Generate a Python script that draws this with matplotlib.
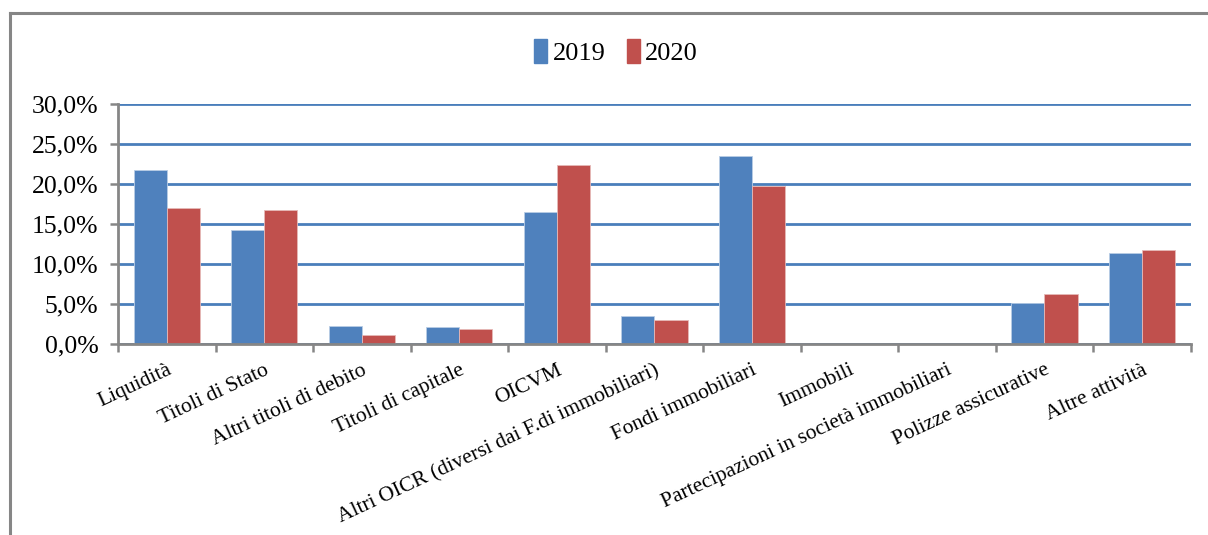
import matplotlib.pyplot as plt
import matplotlib.patches as mpatches
from matplotlib.ticker import FuncFormatter
import numpy as np

plt.rcParams['font.family'] = ['Liberation Serif', 'DejaVu Serif']

# Dati
categorie = [
    "Liquidità",
    "Titoli di Stato",
    "Altri titoli di debito",
    "Titoli di capitale",
    "OICVM",
    "Altri OICR (diversi dai F.di immobiliari)",
    "Fondi immobiliari",
    "Immobili",
    "Partecipazioni in società immobiliari",
    "Polizze assicurative",
    "Altre attività",
]
valori_2019 = [21.7, 14.3, 2.3, 2.1, 16.5, 3.5, 23.5, 0.0, 0.0, 5.1, 11.4]
valori_2020 = [17.0, 16.7, 1.1, 1.9, 22.3, 3.0, 19.7, 0.0, 0.0, 6.3, 11.8]
anni = ["2019", "2020"]

blu = "#4F81BD"
rosso = "#C0504D"
grigio = "#868686"

fig = plt.figure(figsize=(12.08, 5.35), dpi=100)

# cornice esterna (solo lati visibili)
fig.add_artist(plt.Line2D([0.008, 1.0], [0.976, 0.976], color=grigio, lw=2.2,
                          transform=fig.transFigure))
fig.add_artist(plt.Line2D([0.008, 0.008], [0.0, 0.976], color=grigio, lw=2.2,
                          transform=fig.transFigure))

ax = fig.add_axes([0.0977, 0.357, 0.888, 0.449])

x = np.arange(len(categorie))
w = 0.34
ax.bar(x - w / 2, valori_2019, w, color=blu, edgecolor="#B9CDE5", lw=0.6, zorder=3)
ax.bar(x + w / 2, valori_2020, w, color=rosso, edgecolor="#E6B9B8", lw=0.6, zorder=3)

ax.set_xlim(-0.5, len(categorie) - 0.5)
ax.set_ylim(0, 30)
ax.set_yticks(np.arange(0, 31, 5))
ax.yaxis.set_major_formatter(FuncFormatter(lambda v, p: f"{v:.1f}%".replace(".", ",")))
ax.grid(axis="y", color="#4A7EBB", lw=2, zorder=1)

# tick tra le categorie, etichette al centro
ax.set_xticks(np.arange(-0.5, len(categorie), 1))
ax.set_xticklabels([])
ax.set_xticks(x, minor=True)
ax.set_xticklabels(categorie, minor=True, rotation=25, ha="right",
                   rotation_mode="anchor", fontsize=15.5)
ax.tick_params(axis="x", which="minor", length=0, pad=12)
ax.tick_params(axis="x", which="major", length=6, width=1.8, color=grigio, direction="out")
ax.tick_params(axis="y", length=6, width=1.8, color=grigio, labelsize=18.5, pad=8)

for s in ["top", "right"]:
    ax.spines[s].set_visible(False)
for s in ["left", "bottom"]:
    ax.spines[s].set_color(grigio)
    ax.spines[s].set_linewidth(2)
    ax.spines[s].set_zorder(4)

handles = [mpatches.Patch(color=blu, label=anni[0]),
           mpatches.Patch(color=rosso, label=anni[1])]
fig.legend(handles=handles, loc="center", bbox_to_anchor=(0.51, 0.903), ncol=2,
           frameon=False, fontsize=19, handlelength=0.5, handleheight=1.0,
           handletextpad=0.2, columnspacing=0.8)

fig.savefig("out.png", dpi=100)
